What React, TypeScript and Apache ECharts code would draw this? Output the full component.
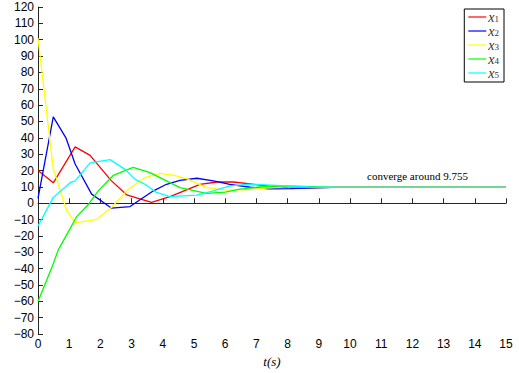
import React, { useEffect, useRef } from "react";
import * as echarts from "echarts";

const seriesNames = ["x1", "x2", "x3", "x4", "x5"];
const seriesColors = ["#ff0000", "#0000ff", "#ffff00", "#00ff00", "#00ffff"];

const x1: [number, number][] = [
  [0, 20], [0.49, 12.5], [1.19, 34.5], [1.67, 29.3], [2.34, 14], [2.84, 5.2], [3.64, 0.6],
  [4.23, 4], [4.82, 8.6], [5.19, 11.6], [5.73, 13], [6.26, 13], [6.8, 11.8], [7.4, 10.4],
  [8.0, 9.5], [8.7, 9.4], [9.4, 9.7], [10.5, 9.755], [15, 9.755],
];
const x2: [number, number][] = [
  [0, 3], [0.49, 52.8], [0.9, 39.8], [1.19, 24], [1.72, 5.6], [2.36, -3], [2.95, -2],
  [3.7, 7.6], [4.12, 11.6], [4.55, 14], [5.09, 15.3], [5.62, 13.7], [6.15, 11.6], [6.8, 9.8],
  [7.4, 8.8], [8.1, 8.9], [8.8, 9.4], [9.5, 9.7], [10.5, 9.755], [15, 9.755],
];
const x3: [number, number][] = [
  [0, 101], [0.49, 21], [0.92, -4.4], [1.19, -12], [1.88, -9.8], [2.36, -2.4], [2.9, 8.6],
  [3.43, 15.7], [3.91, 18.3], [4.34, 17.2], [4.82, 14.6], [5.4, 9.6], [6.05, 8], [6.7, 8.3],
  [7.3, 9.2], [8.0, 10.2], [8.7, 10.1], [9.4, 9.8], [10.5, 9.755], [15, 9.755],
];
const x4: [number, number][] = [
  [0, -60], [0.44, -39.5], [0.65, -28.5], [0.97, -17.5], [1.24, -8.2], [1.61, -0.8],
  [1.93, 7.6], [2.41, 17], [3.05, 22], [3.59, 18.7], [4.02, 14.6], [4.55, 9.6], [5.4, 6],
  [6.0, 6.8], [6.47, 8.6], [7.1, 10], [7.8, 10.6], [8.5, 10.3], [9.3, 9.9], [10.5, 9.755],
  [15, 9.755],
];
const x5: [number, number][] = [
  [0, -14], [0.49, 3.6], [1.03, 12.6], [1.19, 13.7], [1.67, 24.7], [2.31, 26.7], [2.79, 20.7],
  [3.11, 14.6], [3.43, 11.6], [3.8, 6.6], [4.23, 4], [5.09, 5], [5.62, 7.6], [6.15, 10.6],
  [6.7, 11.6], [7.3, 11.3], [8.0, 10.6], [8.7, 10], [9.5, 9.8], [10.5, 9.755], [15, 9.755],
];
const seriesData = [x1, x2, x3, x4, x5];

const annotation = "converge around 9.755";
const xAxisName = "t(s)";

export default function App() {
  const ref = useRef<HTMLDivElement>(null);
  useEffect(() => {
    if (!ref.current) return;
    const chart = echarts.init(ref.current, undefined, { renderer: "svg" });
    const axisColor = "#262626";
    chart.setOption({
      animation: false,
      backgroundColor: "#ffffff",
      grid: { left: 38, right: 13, top: 7, bottom: 35, containLabel: false },
      xAxis: {
        type: "value",
        min: 0,
        max: 15,
        interval: 1,
        name: xAxisName,
        nameLocation: "middle",
        nameGap: 16,
        nameTextStyle: {
          fontFamily: "Liberation Serif",
          fontStyle: "italic",
          fontSize: 13,
          color: "#000",
        },
        axisLine: { show: true, lineStyle: { color: axisColor, width: 1 } },
        axisTick: { show: true, inside: true, length: 5, lineStyle: { color: axisColor } },
        axisLabel: {
          fontFamily: "Liberation Sans",
          fontSize: 12,
          color: "#000",
          margin: 4,
        },
        splitLine: { show: false },
      },
      yAxis: {
        type: "value",
        min: -80,
        max: 120,
        interval: 10,
        axisLine: { show: true, lineStyle: { color: axisColor, width: 1 } },
        axisTick: { show: true, inside: true, length: 5, lineStyle: { color: axisColor } },
        axisLabel: {
          fontFamily: "Liberation Sans",
          fontSize: 12,
          color: "#000",
          margin: 4,
          formatter: (v: number) => String(v).replace("-", "\u2212"),
        },
        splitLine: { show: false },
      },
      legend: {
        orient: "vertical",
        right: 15,
        top: 9,
        data: seriesNames,
        backgroundColor: "#fff",
        borderColor: "#000",
        borderWidth: 1,
        padding: [1, 5, 2, 4],
        itemWidth: 18,
        itemHeight: 8.6,
        itemGap: 0,
        icon: "path://M0,4L18,4L18,5.2L0,5.2Z",
        formatter: (name: string) => `{x|x}{s|${name.slice(1)}}`,
        textStyle: {
          lineHeight: 8.6,
          padding: [0, 0, 0, -3],
          rich: {
            x: { fontFamily: "Liberation Serif", fontStyle: "italic", fontSize: 14, color: "#333", lineHeight: 8.6 },
            s: { fontFamily: "Liberation Serif", fontSize: 9, color: "#333", lineHeight: 8.6, padding: [5, 0, 0, 0] },
          },
        },
      },
      graphic: [
        {
          type: "text",
          left: 367,
          top: 170,
          style: {
            text: annotation,
            fontFamily: "Liberation Serif",
            fontSize: 11,
            fill: "#000",
          },
        },
      ],
      series: seriesData.map((d, i) => ({
        name: seriesNames[i],
        type: "line",
        data: d,
        showSymbol: false,
        symbol: "none",
        lineStyle: { color: seriesColors[i], width: 1.3 },
        itemStyle: { color: seriesColors[i] },
      })),
    });
    return () => chart.dispose();
  }, []);
  return <div ref={ref} style={{ width: 519, height: 373, position: "absolute", left: 0, top: 0 }} />;
}
